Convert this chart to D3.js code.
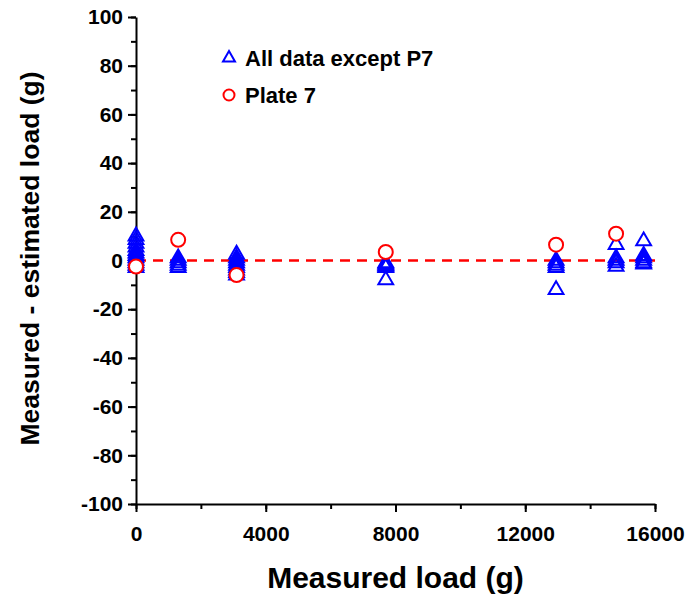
<!DOCTYPE html>
<html>
<head>
<meta charset="utf-8">
<script src="https://cdn.jsdelivr.net/npm/d3@7"></script>
<style>
  body { margin: 0; background: #fff; }
  text { font-family: "Liberation Sans", Arial, sans-serif; font-weight: bold; }
</style>
</head>
<body>
<div id="graph"></div>
<script>
// all data except plate 7 (triangles)
var allX = [0, 0, 0, 0, 0, 0, 0, 0, 0, 0, 0, 0,
            1300, 1300, 1300, 1300, 1300,
            3100, 3100, 3100, 3100, 3100, 3100, 3100, 3100, 3100,
            7700, 7700, 7700, 7700, 7700, 7700,
            12950, 12950, 12950, 12950, 12950,
            14800, 14800, 14800, 14800, 14800,
            15650, 15650, 15650, 15650, 15650, 15650];
var allY = [10, 8.5, 7, 5.5, 4, 3, 2, 1, 0, -1, -2, -3,
            1, 0, -1, -2, -3,
            2.5, 1, 0, -1, -2, -3, -4, -5, -6,
            -1, -1.5, -2, -2.5, -3, -8,
            0, -1, -2, -3, -12,
            6.5, 1, 0, -1, -2.5,
            8, 2, 1, 0, -1, -1.5];

// plate 7 (circles)
var plateX = [0, 1300, 3100, 7700, 12950, 14800];
var plateY = [-2.5, 8.5, -6, 3.5, 6.5, 11];

var xTicks = [0, 4000, 8000, 12000, 16000];
var yTicks = [-100, -80, -60, -40, -20, 0, 20, 40, 60, 80, 100];

var legendLabels = ["All data except P7", "Plate 7"];

var margin = {top: 17, right: 33, bottom: 108, left: 136},
    width  = 688 - margin.left - margin.right,
    height = 612 - margin.top - margin.bottom;

var x = d3.scaleLinear().domain([0, 16000]).range([0, width]);
var y = d3.scaleLinear().domain([-100, 100]).range([height, 0]);

var svg = d3.select("#graph")
  .append("svg")
  .attr("width", 688)
  .attr("height", 612)
  .append("g")
  .attr("transform", "translate(" + margin.left + "," + margin.top + ")");

var fmt = function (d) { return String(d); };

//minor ticks
svg.append("g")
  .attr("class", "minor")
  .attr("transform", "translate(0," + height + ")")
  .call(d3.axisBottom(x).tickValues(d3.range(0, 16001, 2000)).tickSize(5).tickSizeOuter(0).tickFormat(""));
svg.append("g")
  .attr("class", "minor")
  .call(d3.axisLeft(y).tickValues(d3.range(-100, 101, 10)).tickSize(5).tickSizeOuter(0).tickFormat(""));
svg.selectAll(".minor .domain").remove();

//major axes
svg.append("g")
  .attr("class", "x axis")
  .attr("transform", "translate(0," + height + ")")
  .call(d3.axisBottom(x).tickValues(xTicks).tickSize(8).tickSizeOuter(0).tickPadding(14).tickFormat(fmt));

svg.append("g")
  .attr("class", "y axis")
  .call(d3.axisLeft(y).tickValues(yTicks).tickSize(8).tickSizeOuter(0).tickPadding(5).tickFormat(fmt));

svg.selectAll(".domain, .tick line")
  .attr("stroke", "#000")
  .attr("stroke-width", 2);

svg.selectAll(".tick text")
  .attr("fill", "#000")
  .style("font-size", "21px");

//zero line
svg.append("line")
  .attr("x1", x(0))
  .attr("x2", x(16000))
  .attr("y1", y(0))
  .attr("y2", y(0))
  .attr("stroke", "#ff0000")
  .attr("stroke-width", 2.5)
  .attr("stroke-dasharray", "10,7");

var tri = d3.symbol().type(d3.symbolTriangle).size(95);

svg.selectAll(".tri")
  .data(allX)
  .enter()
  .append("path")
  .attr("class", "tri")
  .attr("d", tri)
  .attr("transform", function (d, i) {
    return "translate(" + x(d) + "," + y(allY[i]) + ")";
  })
  .attr("fill", "none")
  .attr("stroke", "#0000ff")
  .attr("stroke-width", 2);

svg.selectAll(".circ")
  .data(plateX)
  .enter()
  .append("circle")
  .attr("class", "circ")
  .attr("cx", function (d) { return x(d); })
  .attr("cy", function (d, i) { return y(plateY[i]); })
  .attr("r", 7)
  .attr("fill", "#fff")
  .attr("stroke", "#ff0000")
  .attr("stroke-width", 2);

//legend
var legend = svg.append("g")
  .attr("transform", "translate(" + (229 - margin.left) + "," + (58 - margin.top) + ")");

legend.append("path")
  .attr("d", d3.symbol().type(d3.symbolTriangle).size(62))
  .attr("fill", "none")
  .attr("stroke", "#0000ff")
  .attr("stroke-width", 2);

legend.append("circle")
  .attr("cy", 37)
  .attr("r", 5.5)
  .attr("fill", "#fff")
  .attr("stroke", "#ff0000")
  .attr("stroke-width", 2);

legend.selectAll("text.leg")
  .data(legendLabels)
  .enter()
  .append("text")
  .attr("class", "leg")
  .attr("x", 16)
  .attr("y", function (d, i) { return i * 37; })
  .attr("dy", "0.35em")
  .style("font-size", "22px")
  .text(function (d) { return d; });

//axis titles
svg.append("text")
  .attr("x", width / 2)
  .attr("y", height + 84)
  .attr("text-anchor", "middle")
  .style("font-size", "30px")
  .text("Measured load (g)");

svg.append("text")
  .attr("transform", "rotate(-90)")
  .attr("x", -height / 2 + 2)
  .attr("y", -106)
  .attr("dy", "0.35em")
  .attr("text-anchor", "middle")
  .style("font-size", "26.5px")
  .text("Measured - estimated load (g)");
</script>
</body>
</html>
